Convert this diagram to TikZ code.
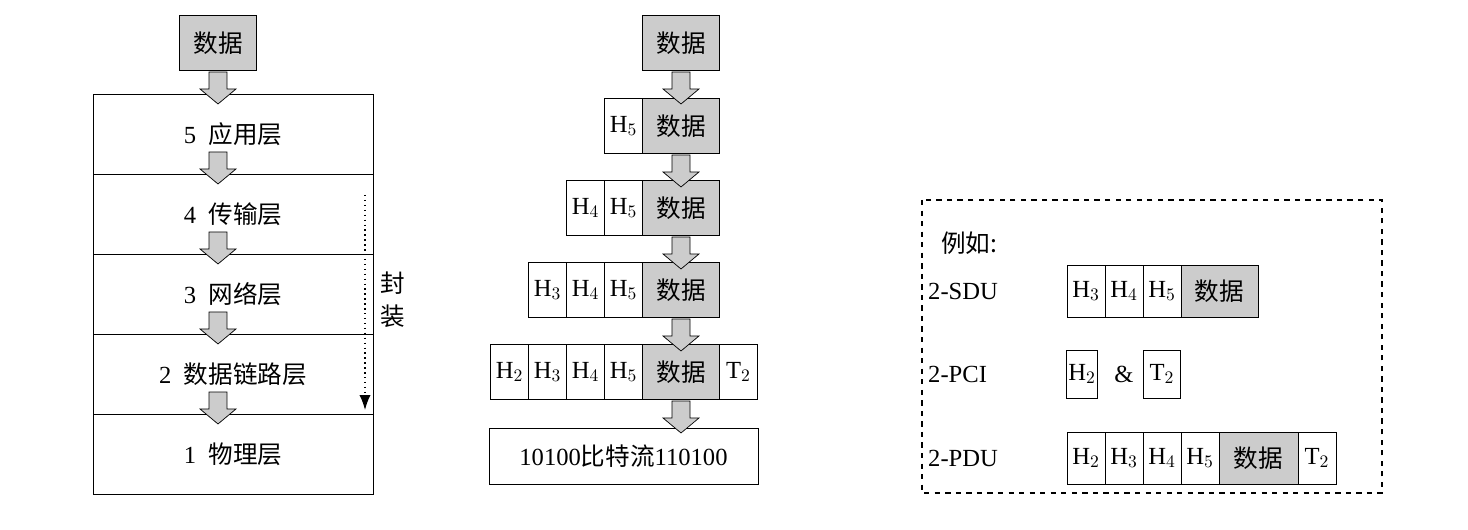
\documentclass[tikz,border=0pt]{standalone}
\usepackage{fontspec}
\setmainfont{Liberation Serif}
\newfontfamily\cjk{Noto Sans CJK SC}
\usetikzlibrary{positioning, arrows.meta}

\begin{document}
\begin{tikzpicture}[
    x=0.02cm, y=-0.02cm,
    font=\fontsize{14}{17}\selectfont,
    cell/.style={rectangle, draw, outer sep=0pt, minimum width=0.76cm, minimum height=1.1cm, inner sep=0pt},
    data/.style={cell, fill=gray!40, minimum width=1.54cm},
    layer/.style={rectangle, draw, outer sep=0pt, minimum width=5.6cm, minimum height=1.6cm},
    down/.pic={\filldraw[fill=gray!40, x=1cm, y=1cm] (-0.18,0)--(0.18,0)--(0.18,-0.34)--(0.36,-0.34)--(0,-0.64)--(-0.36,-0.34)--(-0.18,-0.34)--cycle;}
]
\useasboundingbox (0,0) rectangle (1468,530);

% left: layer stack
\node[data] (top) at (218,43) {\cjk 数据};
\node[layer] (l5) at (233,134) {5\ \ {\cjk 应用层}};
\node[layer] (l4) at (233,214) {4\ \ {\cjk 传输层}};
\node[layer] (l3) at (233,294) {3\ \ {\cjk 网络层}};
\node[layer] (l2) at (233,374) {2\ \ {\cjk 数据链路层}};
\node[layer] (l1) at (233,454) {1\ \ {\cjk 物理层}};
\foreach \y in {72,152,232,312,392}
    \pic at (218,\y) {down};
\coordinate (encA) at (365,195);
\coordinate (encB) at (365,410);
\draw[dotted, thick, -{Latex[length=3mm]}] (encA) -- (encB);
\node[align=center] (enc) at (393,300) {\cjk 封\\[2pt]\cjk 装};

% middle: encapsulation
\node[data] (d1) at (681,43) {\cjk 数据};
\node[data] (d2) at (681,126) {\cjk 数据};
\node[cell, left=0pt of d2] (h52) {H$_5$};
\node[data] (d3) at (681,208) {\cjk 数据};
\node[cell, left=0pt of d3] (h53) {H$_5$};
\node[cell, left=0pt of h53] (h43) {H$_4$};
\node[data] (d4) at (681,290) {\cjk 数据};
\node[cell, left=0pt of d4] (h54) {H$_5$};
\node[cell, left=0pt of h54] (h44) {H$_4$};
\node[cell, left=0pt of h44] (h34) {H$_3$};
\node[data] (d5) at (681,372) {\cjk 数据};
\node[cell, left=0pt of d5] (h55) {H$_5$};
\node[cell, left=0pt of h55] (h45) {H$_4$};
\node[cell, left=0pt of h45] (h35) {H$_3$};
\node[cell, left=0pt of h35] (h25) {H$_2$};
\node[cell, right=0pt of d5] (t25) {T$_2$};
\node[rectangle, draw, minimum width=5.38cm, minimum height=1.12cm] (bits) at (623.5,456) {10100{\cjk 比特流}110100};
\foreach \y in {72,155,237,319,401}
    \pic at (681,\y) {down};

% right: example
\draw[dashed, thick] (922,200) rectangle (1382,493);
\node[anchor=west] (eg) at (935,243) {\cjk 例如:};
\node[anchor=west] (sdu) at (922,291) {2-SDU};
\node[cell, minimum height=1.04cm] (s3) at (1086,291) {H$_3$};
\node[cell, minimum height=1.04cm, right=0pt of s3] (s4) {H$_4$};
\node[cell, minimum height=1.04cm, right=0pt of s4] (s5) {H$_5$};
\node[data, minimum height=1.04cm, right=0pt of s5] (sd) {\cjk 数据};
\node[anchor=west] (pci) at (922,374) {2-PCI};
\node[cell, minimum width=0.62cm, minimum height=0.96cm] (p2) at (1082,374) {H$_2$};
\node (amp) at (1124,374) {\&};
\node[cell, minimum width=0.74cm, minimum height=0.96cm] (pt) at (1162,374) {T$_2$};
\node[anchor=west] (pdu) at (922,458) {2-PDU};
\node[cell, minimum height=1.04cm] (q2) at (1086,458) {H$_2$};
\node[cell, minimum height=1.04cm, right=0pt of q2] (q3) {H$_3$};
\node[cell, minimum height=1.04cm, right=0pt of q3] (q4) {H$_4$};
\node[cell, minimum height=1.04cm, right=0pt of q4] (q5) {H$_5$};
\node[data, minimum height=1.04cm, minimum width=1.58cm, right=0pt of q5] (qd) {\cjk 数据};
\node[cell, minimum height=1.04cm, right=0pt of qd] (qt) {T$_2$};
\end{tikzpicture}
\end{document}
